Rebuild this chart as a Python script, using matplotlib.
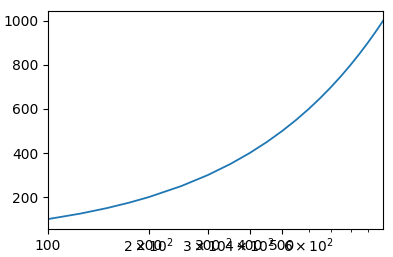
import numpy as np
import matplotlib
matplotlib.use('Agg')
import matplotlib.pyplot as plt
from matplotlib.ticker import ScalarFormatter

# values (y follows x)
x_vals = [100, 125, 150, 175, 200, 250, 300, 350, 400, 450, 500,
          550, 600, 650, 700, 750, 800, 850, 900, 950, 1000]
y_vals = [100, 125, 150, 175, 200, 250, 300, 350, 400, 450, 500,
          550, 600, 650, 700, 750, 800, 850, 900, 950, 1000]
major_ticks = [100, 200, 300, 400, 500]

fig = plt.figure(figsize=(3.93, 2.57), dpi=100)
ax = fig.add_axes([48 / 393, 1 - 229 / 257, 335 / 393, 218 / 257])

ax.plot(x_vals, y_vals, color='#1f77b4', lw=1.3)
ax.set_xscale('log')
ax.set_xlim(100, 1000)
ax.set_xticks(major_ticks)
ax.xaxis.set_major_formatter(ScalarFormatter())
# keep minor labels even where they sit on a major tick
ax.xaxis.remove_overlapping_locs = False
ax.tick_params(labelsize=10)

fig.savefig('out.png', dpi=100)
